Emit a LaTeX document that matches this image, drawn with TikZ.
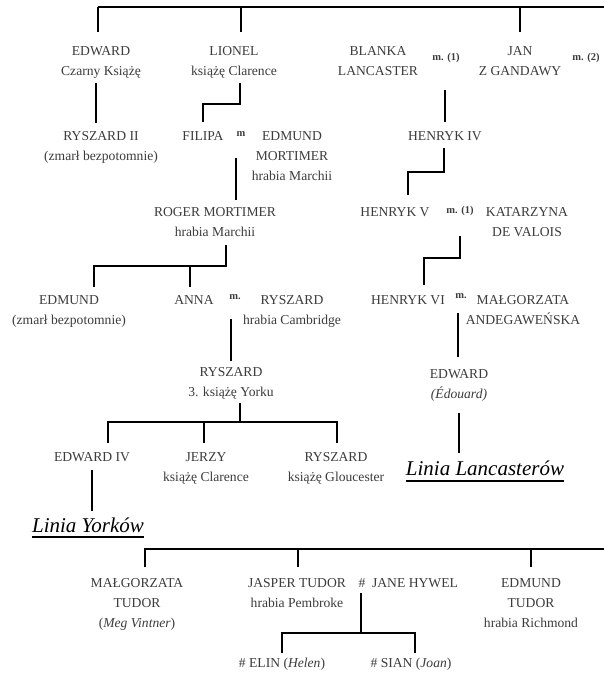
\documentclass[tikz,border=0pt]{standalone}
\usepackage{fontspec}
\setmainfont{Liberation Serif}
\usetikzlibrary{calc}
\definecolor{txt}{HTML}{3C3C3C}
\newcommand{\fst}{\rule{0pt}{13pt}}
\begin{document}
\begin{tikzpicture}[x=1pt,y=-1pt,
  person/.style={anchor=north,align=center,inner sep=0pt,text=txt,font=\fontsize{13.6}{20}\selectfont},
  marr/.style={inner sep=0pt,text=txt,font=\bfseries\fontsize{10.5}{12}\selectfont},
  linia/.style={anchor=base,inner sep=0pt,text=black,font=\itshape\fontsize{21}{24}\selectfont},
  conn/.style={draw=black,line width=1.8pt},
  lite/.style={draw=black,line width=1.3pt},
  bar/.style={draw=black,line width=2.2pt},
  uline/.style={draw=black,line width=1.6pt}]
\fill[white] (0,0) rectangle (603,675);
\useasboundingbox (0,0) rectangle (603,675);

% row 1
\node[person] (edward) at (101,42.5) {\fst EDWARD\\Czarny Książę};
\node[person] (lionel) at (234,42.5) {\fst LIONEL\\książę Clarence};
\node[person] (blanka) at (378,42.5) {\fst BLANKA\\LANCASTER};
\node[marr] (m1) at (446,58) {m. (1)};
\node[person] (jan) at (520,42.5) {\fst JAN\\Z GANDAWY};
\node[marr] (m2) at (586,58) {m. (2)};
% row 2
\node[person] (ryszard2) at (101,127.5) {\fst RYSZARD II\\(zmarł bezpotomnie)};
\node[person] (filipa) at (203,127.5) {\fst FILIPA};
\node[marr] (mfil) at (241,134) {m};
\node[person] (edmundm) at (292,127.5) {\fst EDMUND\\MORTIMER\\hrabia Marchii};
\node[person] (henryk4) at (445,127.5) {\fst HENRYK IV};
% row 3
\node[person] (roger) at (215,203.5) {\fst ROGER MORTIMER\\hrabia Marchii};
\node[person] (henryk5) at (395,203.5) {\fst HENRYK V};
\node[marr] (mh5) at (460,211) {m. (1)};
\node[person] (katarzyna) at (527,203.5) {\fst KATARZYNA\\DE VALOIS};
% row 4
\node[person] (edmund2) at (69,291.5) {\fst EDMUND\\(zmarł bezpotomnie)};
\node[person] (anna) at (194,291.5) {\fst ANNA};
\node[marr] (manna) at (235,297) {m.};
\node[person] (ryszardc) at (292,291.5) {\fst RYSZARD\\hrabia Cambridge};
\node[person] (henryk6) at (408,291.5) {\fst HENRYK VI};
\node[marr] (mh6) at (461,296) {m.};
\node[person] (malg) at (523,291.5) {\fst MAŁGORZATA\\ANDEGAWEŃSKA};
% row 5
\node[person] (ryszardy) at (231,363.5) {\fst RYSZARD\\3. książę Yorku};
\node[person] (edwardl) at (459,365.5) {\fst EDWARD\\\textit{(Édouard)}};
% row 6
\node[person] (edward4) at (92,448.5) {\fst EDWARD IV};
\node[person] (jerzy) at (206,448.5) {\fst JERZY\\książę Clarence};
\node[person] (ryszardg) at (336,448.5) {\fst RYSZARD\\książę Gloucester};
\node[linia] (lanc) at (485,475) {Linia Lancasterów};
\node[linia] (york) at (88,532) {Linia Yorków};
% row 8
\node[person] (malgt) at (137,574.5) {\fst MAŁGORZATA\\TUDOR\\(\textit{Meg Vintner})};
\node[person] (jasper) at (297,574.5) {\fst JASPER TUDOR\\hrabia Pembroke};
\node[person] (hash) at (362,574.5) {\fst\#};
\node[person] (jane) at (415,574.5) {\fst JANE HYWEL};
\node[person] (edmundt) at (531,574.5) {\fst EDMUND\\TUDOR\\hrabia Richmond};
% row 9
\node[person] (elin) at (282,654.5) {\fst\# ELIN (\textit{Helen})};
\node[person] (sian) at (411,654.5) {\fst\# SIAN (\textit{Joan})};

% underlines
\draw[uline] ($(lanc.base west)+(0,-6pt)$) -- ($(lanc.base east)+(0,-6pt)$);
\draw[uline] ($(york.base west)+(0,-5pt)$) -- ($(york.base east)+(0,-5pt)$);

% top bar
\coordinate (tR) at (604,7);
\draw[bar] ($(edward.north)+(-3pt,35.5pt)$) -- (tR);
\draw[conn] ($(edward.north)+(-3pt,35.5pt)$) -- ($(edward.north)+(-3pt,10.5pt)$);
\draw[conn] ($(lionel.north)+(7pt,35.5pt)$) -- ($(lionel.north)+(7pt,10.5pt)$);
\draw[conn] ($(jan.north)+(0,35.5pt)$) -- ($(jan.north)+(0,10.5pt)$);

% Edward -> Ryszard II
\draw[lite] ($(edward.north)+(-5pt,-40.5pt)$) -- ($(edward.north |- ryszard2.north)+(-5pt,4.5pt)$);
% Lionel -> Filipa
\draw[conn] ($(lionel.north)+(6pt,-40.5pt)$) -- ($(lionel.north)+(6pt,-61.5pt)$) -| ($(filipa.north)+(0,5.5pt)$);
% Blanka m. Jan -> Henryk IV
\draw[conn] ($(m1.center -| henryk4.north)+(0,-32pt)$) -- ($(henryk4.north)+(0,5.5pt)$);
% Filipa m Edmund -> Roger
\draw[lite] ($(mfil.center)+(-5pt,-24pt)$) -- ($(mfil.center |- roger.north)+(-5pt,3.5pt)$);
% Henryk IV -> Henryk V
\draw[conn] ($(henryk4.north)+(-1pt,-20.5pt)$) -- ($(henryk4.north)+(-1pt,-44.5pt)$) -| ($(henryk5.north)+(13pt,8.5pt)$);
% Roger -> Edmund, Anna
\draw[conn] ($(roger.north)+(11pt,-41.5pt)$) -- ($(roger.north)+(11pt,-62.5pt)$) -| ($(edmund2.north)+(25pt,4.5pt)$);
\draw[conn] ($(anna.north)+(-4pt,25.5pt)$) -- ($(anna.north)+(-4pt,4.5pt)$);
% Henryk V m. Katarzyna -> Henryk VI
\draw[conn] ($(mh5.center)+(0,-25pt)$) -- ($(mh5.center)+(0,-47pt)$) -| ($(henryk6.north)+(16pt,6.5pt)$);
% Anna m. Ryszard -> Ryszard of York
\draw[lite] ($(manna.center)+(-4pt,-22pt)$) -- ($(manna.center |- ryszardy.north)+(-4pt,2.5pt)$);
% Henryk VI m. Malgorzata -> Edward
\draw[lite] ($(mh6.center)+(-3pt,-17pt)$) -- ($(mh6.center |- edwardl.north)+(-3pt,8.5pt)$);
% Ryszard of York -> children
\draw[conn] ($(ryszardy.north)+(9pt,-39.5pt)$) -- ($(ryszardy.north)+(9pt,-58.5pt)$);
\draw[conn] ($(edward4.north)+(16pt,5.5pt)$) |- ($(ryszardg.north)+(1pt,26.5pt)$) -- ($(ryszardg.north)+(1pt,5.5pt)$);
\draw[conn] ($(jerzy.north)+(-2pt,26.5pt)$) -- ($(jerzy.north)+(-2pt,5.5pt)$);
% Edward -> Linia Lancasterow
\draw[conn] ($(edwardl.north)+(0,-47.5pt)$) -- ($(edwardl.north |- lanc.north)+(0,7pt)$);
% Edward IV -> Linia Yorkow
\draw[conn] ($(edward4.north)+(0,-21.5pt)$) -- ($(edward4.north |- york.north)+(0,6pt)$);

% bottom bar
\coordinate (bR) at (604,549);
\draw[conn] ($(malgt.north)+(8pt,7.5pt)$) |- (bR);
\draw[conn] ($(jasper.north)+(1pt,25.5pt)$) -- ($(jasper.north)+(1pt,7.5pt)$);
\draw[conn] ($(edmundt.north)+(0,25.5pt)$) -- ($(edmundt.north)+(0,7.5pt)$);
% Jasper # Jane -> Elin, Sian
\draw[lite] ($(hash.north)+(-1pt,-18.5pt)$) -- ($(hash.north)+(-1pt,-58.5pt)$);
\draw[conn] ($(elin.north)+(0,1.5pt)$) |- ($(sian.north)+(4pt,21.5pt)$) -- ($(sian.north)+(4pt,1.5pt)$);
\end{tikzpicture}
\end{document}
